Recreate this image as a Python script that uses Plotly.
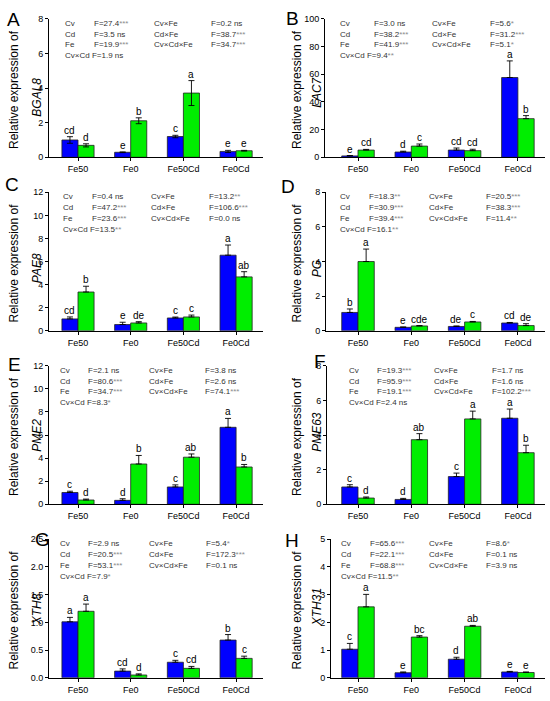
import plotly.graph_objects as go

# =====================================================
# DATA
# =====================================================

categories = ["Fe50", "Fe0", "Fe50Cd", "Fe0Cd"]

stat_terms = ["Cv", "Cd", "Fe", "Cv×Cd", "Cv×Fe", "Cd×Fe", "Cv×Cd×Fe"]

# A - BGAL8
bgal8_blue = [1.00, 0.29, 1.20, 0.34]
bgal8_blue_err = [0.19, 0.02, 0.07, 0.06]
bgal8_green = [0.69, 2.11, 3.71, 0.38]
bgal8_green_err = [0.09, 0.17, 0.72, 0.02]
bgal8_blue_letters = ["cd", "e", "c", "e"]
bgal8_green_letters = ["d", "b", "a", "e"]
bgal8_f = [27.4, 3.5, 19.9, 1.9, 0.2, 38.7, 34.7]
bgal8_sig = ["***", "ns", "***", "ns", "ns", "***", "***"]

# B - LAC7
lac7_blue = [1.0, 3.8, 5.2, 57.6]
lac7_blue_err = [0.3, 0.6, 1.5, 12.0]
lac7_green = [5.2, 8.1, 4.8, 27.9]
lac7_green_err = [0.5, 1.5, 1.0, 2.2]
lac7_blue_letters = ["e", "d", "cd", "a"]
lac7_green_letters = ["cd", "c", "cd", "b"]
lac7_f = [3.0, 38.2, 41.9, 9.4, 5.6, 31.2, 5.1]
lac7_sig = ["ns", "***", "***", "**", "*", "***", "*"]

# C - PAE8
pae8_blue = [1.03, 0.54, 1.11, 6.55]
pae8_blue_err = [0.17, 0.20, 0.08, 0.88]
pae8_green = [3.36, 0.68, 1.20, 4.67]
pae8_green_err = [0.50, 0.11, 0.16, 0.45]
pae8_blue_letters = ["cd", "e", "c", "a"]
pae8_green_letters = ["b", "de", "c", "ab"]
pae8_f = [0.4, 47.2, 23.6, 13.5, 13.2, 106.6, 0.0]
pae8_sig = ["ns", "***", "***", "**", "**", "***", "ns"]

# D - PG
pg_blue = [1.06, 0.20, 0.25, 0.45]
pg_blue_err = [0.20, 0.02, 0.03, 0.03]
pg_green = [4.00, 0.28, 0.51, 0.30]
pg_green_err = [0.72, 0.02, 0.03, 0.11]
pg_blue_letters = ["b", "e", "de", "cd"]
pg_green_letters = ["a", "cde", "c", "de"]
pg_f = [18.3, 30.9, 39.4, 16.1, 20.5, 38.3, 11.4]
pg_sig = ["**", "***", "***", "**", "***", "***", "**"]

# E - PME2
pme2_blue = [1.02, 0.34, 1.50, 6.67]
pme2_blue_err = [0.11, 0.14, 0.18, 0.77]
pme2_green = [0.37, 3.49, 4.08, 3.23]
pme2_green_err = [0.08, 0.74, 0.28, 0.22]
pme2_blue_letters = ["c", "d", "c", "a"]
pme2_green_letters = ["d", "b", "ab", "b"]
pme2_f = [2.1, 80.6, 34.7, 8.3, 3.8, 2.6, 74.1]
pme2_sig = ["ns", "***", "***", "*", "ns", "ns", "***"]

# F - PME63
pme63_blue = [1.00, 0.28, 1.60, 4.97]
pme63_blue_err = [0.13, 0.06, 0.20, 0.53]
pme63_green = [0.36, 3.73, 4.93, 2.98]
pme63_green_err = [0.06, 0.35, 0.45, 0.43]
pme63_blue_letters = ["c", "d", "c", "a"]
pme63_green_letters = ["d", "ab", "a", "b"]
pme63_f = [19.3, 95.9, 19.1, 2.4, 1.7, 1.6, 102.2]
pme63_sig = ["***", "***", "***", "ns", "ns", "ns", "***"]

# G - XTH8
xth8_blue = [1.01, 0.12, 0.28, 0.68]
xth8_blue_err = [0.08, 0.04, 0.035, 0.10]
xth8_green = [1.20, 0.05, 0.17, 0.35]
xth8_green_err = [0.13, 0.02, 0.035, 0.04]
xth8_blue_letters = ["a", "cd", "c", "b"]
xth8_green_letters = ["a", "d", "cd", "c"]
xth8_f = [2.9, 20.5, 53.1, 7.9, 5.4, 172.3, 0.1]
xth8_sig = ["ns", "***", "***", "*", "*", "***", "ns"]

# H - XTH31
xth31_blue = [1.03, 0.18, 0.67, 0.21]
xth31_blue_err = [0.21, 0.03, 0.07, 0.02]
xth31_green = [2.56, 1.47, 1.86, 0.19]
xth31_green_err = [0.45, 0.05, 0.03, 0.02]
xth31_blue_letters = ["c", "e", "d", "e"]
xth31_green_letters = ["a", "bc", "ab", "e"]
xth31_f = [65.6, 22.1, 68.8, 11.5, 8.6, 0.1, 3.9]
xth31_sig = ["***", "***", "***", "**", "*", "ns", "ns"]

# =====================================================
# PANEL SETUP
# =====================================================

W, H = 550, 701
FONT = "Liberation Sans, Arial, sans-serif"
BLUE = "#0000ff"
GREEN = "#00ee00"
GREY = "#8c8c8c"

ROW_TOP = [14, 190, 366, 542]
PLOT_H = 140.5
BAR_W = 0.305

panels = [
    dict(letter="A", gene="BGAL8", blue=bgal8_blue, blue_err=bgal8_blue_err,
         green=bgal8_green, green_err=bgal8_green_err,
         bl=bgal8_blue_letters, gl=bgal8_green_letters,
         f=bgal8_f, sig=bgal8_sig, ymax=8, dtick=2, fmt="d",
         row=0, col=0, axis_left=49, stat_x=[63, 92, 152, 209],
         letter_xy=(13, 15), gene_mid=80, sym=True),
    dict(letter="B", gene="LAC7", blue=lac7_blue, blue_err=lac7_blue_err,
         green=lac7_green, green_err=lac7_green_err,
         bl=lac7_blue_letters, gl=lac7_green_letters,
         f=lac7_f, sig=lac7_sig, ymax=100, dtick=20, fmt="d",
         row=0, col=1, axis_left=325, stat_x=[338, 372, 430, 488],
         letter_xy=(292, 14), gene_mid=75, sym=False),
    dict(letter="C", gene="PAE8", blue=pae8_blue, blue_err=pae8_blue_err,
         green=pae8_green, green_err=pae8_green_err,
         bl=pae8_blue_letters, gl=pae8_green_letters,
         f=pae8_f, sig=pae8_sig, ymax=12, dtick=2, fmt="d",
         row=1, col=0, axis_left=49, stat_x=[61, 90, 149, 207],
         letter_xy=(12, 182), gene_mid=77, sym=False),
    dict(letter="D", gene="PG", blue=pg_blue, blue_err=pg_blue_err,
         green=pg_green, green_err=pg_green_err,
         bl=pg_blue_letters, gl=pg_green_letters,
         f=pg_f, sig=pg_sig, ymax=8, dtick=2, fmt="d",
         row=1, col=1, axis_left=326, stat_x=[338, 367, 427, 484],
         letter_xy=(288, 184), gene_mid=78, sym=False),
    dict(letter="E", gene="PME2", blue=pme2_blue, blue_err=pme2_blue_err,
         green=pme2_green, green_err=pme2_green_err,
         bl=pme2_blue_letters, gl=pme2_green_letters,
         f=pme2_f, sig=pme2_sig, ymax=12, dtick=2, fmt="d",
         row=2, col=0, axis_left=49, stat_x=[58, 86, 147, 203],
         letter_xy=(14, 365), gene_mid=71, sym=False),
    dict(letter="F", gene="PME63", blue=pme63_blue, blue_err=pme63_blue_err,
         green=pme63_green, green_err=pme63_green_err,
         bl=pme63_blue_letters, gl=pme63_green_letters,
         f=pme63_f, sig=pme63_sig, ymax=8, dtick=2, fmt="d",
         row=2, col=1, axis_left=327, stat_x=[347, 375, 432, 490],
         letter_xy=(320, 362), gene_mid=67, sym=False),
    dict(letter="G", gene="XTH8", blue=xth8_blue, blue_err=xth8_blue_err,
         green=xth8_green, green_err=xth8_green_err,
         bl=xth8_blue_letters, gl=xth8_green_letters,
         f=xth8_f, sig=xth8_sig, ymax=2.5, dtick=0.5, fmt=".1f",
         row=3, col=0, axis_left=49, stat_x=[58, 86, 147, 204],
         letter_xy=(42, 542), gene_mid=71, sym=False),
    dict(letter="H", gene="XTH31", blue=xth31_blue, blue_err=xth31_blue_err,
         green=xth31_green, green_err=xth31_green_err,
         bl=xth31_blue_letters, gl=xth31_green_letters,
         f=xth31_f, sig=xth31_sig, ymax=5, dtick=1, fmt="d",
         row=3, col=1, axis_left=331, stat_x=[339, 368, 427, 484],
         letter_xy=(292, 543), gene_mid=69, sym=False),
]


def px_x(p):
    return p / W


def px_y(p):
    return 1 - p / H


def stat_text(v, s):
    if s == "ns":
        return f"F={v:.1f} ns"
    return f"F={v:.1f}<span style='color:{GREY}'>{s}</span>"


# =====================================================
# BUILD FIGURE
# =====================================================

fig = go.Figure()
layout = {}
annotations = []
x_pos = list(range(len(categories)))

for k, p in enumerate(panels):

    n = "" if k == 0 else str(k + 1)
    xa, ya = "x" + n, "y" + n

    top = ROW_TOP[p["row"]]
    bottom = top + PLOT_H
    mid = (top + bottom) / 2

    if p["col"] == 0:
        x_right, c0, step = 263, 78, 52.7
    else:
        x_right, c0, step = 545, 358, 53.3

    lo = -(c0 - p["axis_left"]) / step
    hi = 3 + (x_right - (c0 + 3 * step)) / step

    for vals, errs, color in [
        (p["blue"], p["blue_err"], BLUE),
        (p["green"], p["green_err"], GREEN),
    ]:
        err = dict(type="data", array=errs, color="black",
                   thickness=0.9, width=3)
        if p["sym"]:
            err["symmetric"] = True
        else:
            err["symmetric"] = False
            err["arrayminus"] = [0] * len(errs)

        fig.add_trace(go.Bar(
            x=x_pos,
            y=vals,
            error_y=err,
            marker=dict(color=color, line=dict(color="#222222", width=0.8)),
            xaxis=xa,
            yaxis=ya,
            hoverinfo="skip"
        ))

    layout["xaxis" + n] = dict(
        domain=[px_x(p["axis_left"]), px_x(x_right)],
        range=[lo, hi],
        anchor=ya,
        tickvals=x_pos,
        ticktext=categories,
        ticks="outside",
        ticklen=3,
        tickcolor="black",
        showline=True,
        linecolor="black",
        linewidth=1,
        showgrid=False,
        zeroline=False,
        tickfont=dict(size=9, color="black", family=FONT)
    )

    layout["yaxis" + n] = dict(
        domain=[px_y(bottom), px_y(top)],
        range=[0, p["ymax"]],
        tick0=0,
        dtick=p["dtick"],
        tickformat=p["fmt"],
        anchor=xa,
        ticks="outside",
        ticklen=3,
        tickcolor="black",
        showline=True,
        linecolor="black",
        linewidth=1,
        showgrid=False,
        zeroline=False,
        tickfont=dict(size=9, color="black", family=FONT)
    )

    # significance letters above bars
    for i in x_pos:
        for dx, vals, errs, labels in [
            (-BAR_W / 2, p["blue"], p["blue_err"], p["bl"]),
            (BAR_W / 2, p["green"], p["green_err"], p["gl"]),
        ]:
            annotations.append(dict(
                x=i + dx, y=vals[i] + errs[i], xref=xa, yref=ya,
                text=labels[i], showarrow=False, yanchor="bottom",
                yshift=-1, font=dict(size=10, color="black", family=FONT)
            ))

    # ANOVA statistics block
    row_off = [4.5, 15.5, 26.5, 37.5]
    cells = []
    for j in range(3):
        cells.append((p["stat_x"][0], row_off[j], stat_terms[j]))
        cells.append((p["stat_x"][1], row_off[j], stat_text(p["f"][j], p["sig"][j])))
        cells.append((p["stat_x"][2], row_off[j], stat_terms[4 + j]))
        cells.append((p["stat_x"][3], row_off[j], stat_text(p["f"][4 + j], p["sig"][4 + j])))
    cells.append((p["stat_x"][0], row_off[3],
                  stat_terms[3] + " " + stat_text(p["f"][3], p["sig"][3])))

    for cx, cy, txt in cells:
        annotations.append(dict(
            x=px_x(cx), y=px_y(top + cy), xref="paper", yref="paper",
            text=txt, showarrow=False, xanchor="left", yanchor="middle",
            font=dict(size=8, color="#333333", family=FONT)
        ))

    # y axis title, two lines
    if p["col"] == 0:
        t1x, t2x = 14, 37
    else:
        t1x, t2x = 297, 317

    annotations.append(dict(
        x=px_x(t1x), y=px_y(mid + 2), xref="paper", yref="paper",
        text="Relative expression of", textangle=-90, showarrow=False,
        xanchor="center", yanchor="middle",
        font=dict(size=12, color="black", family=FONT)
    ))
    annotations.append(dict(
        x=px_x(t2x), y=px_y(top + p["gene_mid"]), xref="paper", yref="paper",
        text="<i>" + p["gene"] + "</i>", textangle=-90, showarrow=False,
        xanchor="center", yanchor="middle",
        font=dict(size=12, color="black", family=FONT)
    ))

    # panel letter
    annotations.append(dict(
        x=px_x(p["letter_xy"][0]), y=px_y(p["letter_xy"][1]),
        xref="paper", yref="paper", text=p["letter"], showarrow=False,
        xanchor="center", yanchor="middle",
        font=dict(size=19, color="black", family=FONT)
    ))

fig.update_layout(
    **layout,
    annotations=annotations,
    barmode="group",
    bargap=0.39,
    bargroupgap=0,
    showlegend=False,
    width=W,
    height=H,
    margin=dict(l=0, r=0, t=0, b=0),
    plot_bgcolor="white",
    paper_bgcolor="white",
    font=dict(family=FONT, color="black")
)

fig.write_html(
    "out.html",
    config={"displayModeBar": False},
    post_script="document.body.style.margin='0';"
)
